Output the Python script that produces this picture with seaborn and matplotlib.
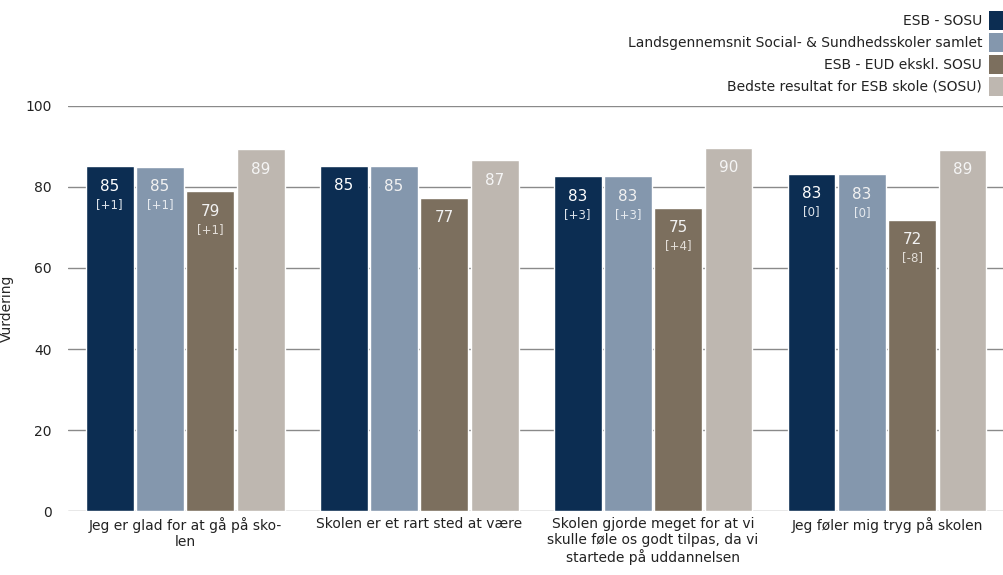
import pandas as pd
import matplotlib.pyplot as plt
import seaborn as sns
from matplotlib.patches import Patch

# Data
questions = [
    "Jeg er glad for at gå på sko-\nlen",
    "Skolen er et rart sted at være",
    "Skolen gjorde meget for at vi\nskulle føle os godt tilpas, da vi\nstartede på uddannelsen",
    "Jeg føler mig tryg på skolen",
]
series = [
    "ESB - SOSU",
    "Landsgennemsnit Social- & Sundhedsskoler samlet",
    "ESB - EUD ekskl. SOSU",
    "Bedste resultat for ESB skole (SOSU)",
]
esb_sosu = [85.1, 85.2, 82.6, 83.2]
landsgns = [85.0, 85.1, 82.6, 83.1]
esb_eud = [78.9, 77.3, 74.9, 71.9]
bedste = [89.3, 86.6, 89.7, 89.2]

esb_sosu_lbl = ["85", "85", "83", "83"]
landsgns_lbl = ["85", "85", "83", "83"]
esb_eud_lbl = ["79", "77", "75", "72"]
bedste_lbl = ["89", "87", "90", "89"]

esb_sosu_diff = ["[+1]", "", "[+3]", "[0]"]
landsgns_diff = ["[+1]", "", "[+3]", "[0]"]
esb_eud_diff = ["[+1]", "", "[+4]", "[-8]"]
bedste_diff = ["", "", "", ""]

colors = ["#0c2d52", "#8497ad", "#7c6f5e", "#beb7b0"]
num_colors = ["white", "#f2f2f2", "#f2f2f2", "#f5f5f5"]
diff_colors = ["#dde3ea", "#e6eaef", "#e3ded8", "#f0f0f0"]

all_vals = [esb_sosu, landsgns, esb_eud, bedste]
all_lbls = [esb_sosu_lbl, landsgns_lbl, esb_eud_lbl, bedste_lbl]
all_diffs = [esb_sosu_diff, landsgns_diff, esb_eud_diff, bedste_diff]

rows = []
for s, vals in zip(series, all_vals):
    for q, v in zip(questions, vals):
        rows.append({"Spørgsmål": q, "Serie": s, "Vurdering": v})
df = pd.DataFrame(rows)

sns.set_style("white")
plt.rcParams["font.family"] = ["DejaVu Sans"]
plt.rcParams["text.color"] = "#222222"

fig = plt.figure(figsize=(10.04, 5.75), dpi=100)
ax = fig.add_axes([0.068, 0.111, 0.932, 0.705])

sns.barplot(data=df, x="Spørgsmål", y="Vurdering", hue="Serie",
            hue_order=series, order=questions, palette=colors,
            width=0.86, gap=0.05, saturation=1, ax=ax, legend=False)

for i, cont in enumerate(ax.containers):
    for j, bar in enumerate(cont.patches):
        x = bar.get_x() + bar.get_width() / 2
        top = bar.get_height()
        ax.annotate(all_lbls[i][j], (x, top), xytext=(0, -20),
                    textcoords="offset pixels", ha="center", va="center",
                    fontsize=11, color=num_colors[i])
        if all_diffs[i][j]:
            ax.annotate(all_diffs[i][j], (x, top), xytext=(0, -38),
                        textcoords="offset pixels", ha="center", va="center",
                        fontsize=8.5, color=diff_colors[i])

ax.set_ylim(0, 100)
ax.set_xlim(-0.5, 3.5)
ax.set_yticks([0, 20, 40, 60, 80, 100])
ax.yaxis.grid(True, color="#8a8a8a", linewidth=1)
ax.set_axisbelow(True)
for sp in ax.spines.values():
    sp.set_visible(False)
ax.tick_params(axis="y", length=0, pad=12, labelsize=10, labelcolor="#222222")
ax.tick_params(axis="x", length=0, pad=4, labelsize=10, labelcolor="#222222")
ax.set_xlabel("")
ax.set_ylabel("Vurdering", fontsize=10, labelpad=8)

handles = [Patch(facecolor=c, edgecolor="none") for c in colors]
leg = fig.legend(handles, series, loc="upper right", bbox_to_anchor=(0.999, 0.981),
                 frameon=False, markerfirst=False, fontsize=10,
                 handlelength=1.0, handleheight=1.75, handletextpad=0.5,
                 labelspacing=0.2, borderaxespad=0, borderpad=0)
for t in leg.get_texts():
    t.set_ha("right")
leg._legend_box.align = "right"

fig.savefig("out.png", dpi=100)
